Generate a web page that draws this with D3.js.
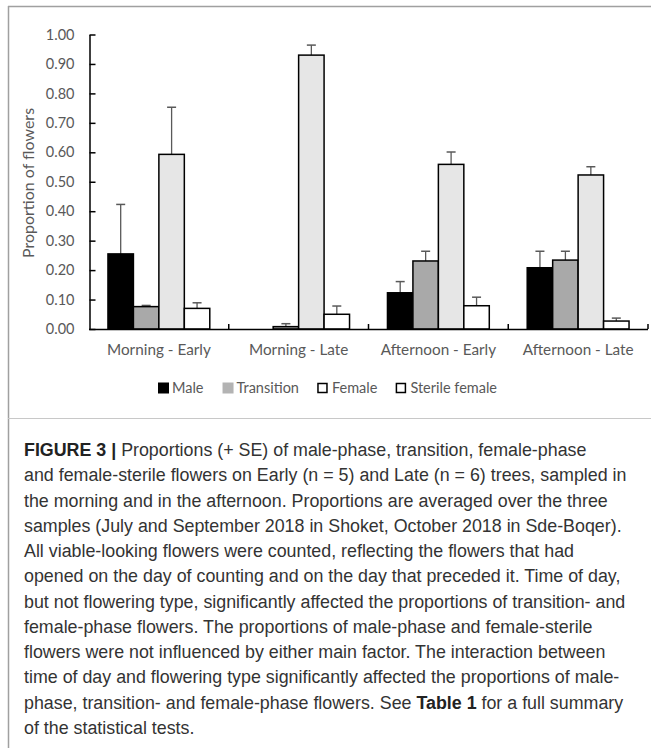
<!DOCTYPE html>
<html>
<head>
<meta charset="utf-8">
<script src="https://cdn.jsdelivr.net/npm/d3@7"></script>
<style>
  html, body { margin: 0; padding: 0; background: #fff; }
  svg { display: block; }
</style>
</head>
<body>
<svg id="chart" width="651" height="748"></svg>
<script>
// ---- data ----
const categories = ["Morning - Early", "Morning - Late", "Afternoon - Early", "Afternoon - Late"];
const seriesNames = ["Male", "Transition", "Female", "Sterile female"];
const male = [0.255, 0.000, 0.123, 0.208];
const maleSE = [0.168, 0.000, 0.038, 0.056];
const transition = [0.076, 0.008, 0.231, 0.234];
const transitionSE = [0.004, 0.010, 0.033, 0.030];
const female = [0.593, 0.930, 0.559, 0.523];
const femaleSE = [0.160, 0.034, 0.042, 0.028];
const sterile = [0.070, 0.050, 0.079, 0.027];
const sterileSE = [0.019, 0.028, 0.029, 0.010];
const yTicks = [0, 0.1, 0.2, 0.3, 0.4, 0.5, 0.6, 0.7, 0.8, 0.9, 1.0];
const yLabel = "Proportion of flowers";
const captionLines = [
  [["FIGURE 3 |", true], [" Proportions (+ SE) of male-phase, transition, female-phase", false]],
  [["and female-sterile flowers on Early (n = 5) and Late (n = 6) trees, sampled in", false]],
  [["the morning and in the afternoon. Proportions are averaged over the three", false]],
  [["samples (July and September 2018 in Shoket, October 2018 in Sde-Boqer).", false]],
  [["All viable-looking flowers were counted, reflecting the flowers that had", false]],
  [["opened on the day of counting and on the day that preceded it. Time of day,", false]],
  [["but not flowering type, significantly affected the proportions of transition- and", false]],
  [["female-phase flowers. The proportions of male-phase and female-sterile", false]],
  [["flowers were not influenced by either main factor. The interaction between", false]],
  [["time of day and flowering type significantly affected the proportions of male-", false]],
  [["phase, transition- and female-phase flowers. See ", false], ["Table 1", true], [" for a full summary", false]],
  [["of the statistical tests.", false]]
];

const valueSets = [male, transition, female, sterile];
const seSets = [maleSE, transitionSE, femaleSE, sterileSE];
const fills = ["#000000", "#a9a9a9", "#e6e6e6", "#ffffff"];
const legendFills = ["#000000", "#b3b3b3", "#ffffff", "#ffffff"];
const legendStrokes = ["none", "none", "#000", "#000"];

const svg = d3.select("#chart");
const axisColor = "#595959";
const chartFont = "Lato, 'Open Sans', sans-serif";

// frame
svg.append("line").attr("x1", 8).attr("x2", 651).attr("y1", 6.5).attr("y2", 6.5)
  .attr("stroke", "#a0a0a0").attr("stroke-width", 1.5);
svg.append("line").attr("x1", 8.5).attr("x2", 8.5).attr("y1", 6).attr("y2", 748)
  .attr("stroke", "#a0a0a0").attr("stroke-width", 1.5);
svg.append("line").attr("x1", 8).attr("x2", 651).attr("y1", 418.5).attr("y2", 418.5)
  .attr("stroke", "#c8c8c8").attr("stroke-width", 1);

// scales
const x0 = d3.scaleBand().domain(categories).range([89, 648]).paddingInner(0).paddingOuter(0);
const x1 = d3.scaleBand().domain(seriesNames).range([0, x0.bandwidth()]).paddingInner(0).paddingOuter(0.745);
const y = d3.scaleLinear().domain([0, 1]).range([329, 34.5]);

// y axis
const yAxis = d3.axisLeft(y).tickValues(yTicks).tickFormat(d3.format(".2f")).tickSizeInner(-6).tickSizeOuter(0).tickPadding(15);
const gy = svg.append("g").attr("transform", "translate(89.5,0)").call(yAxis);
gy.select(".domain").attr("stroke", "#000").attr("stroke-width", 1.5);
gy.selectAll(".tick line").attr("stroke", "#000").attr("stroke-width", 1.5);
gy.selectAll(".tick text").attr("fill", axisColor).style("font-family", chartFont).style("font-size", "14.5px");

// y label
svg.append("text").attr("transform", "translate(34,183) rotate(-90)")
  .attr("text-anchor", "middle").attr("fill", axisColor)
  .style("font-family", chartFont).style("font-size", "16px").text(yLabel);

// bars
const groups = svg.append("g").selectAll("g").data(categories).join("g")
  .attr("transform", d => `translate(${x0(d)},0)`);

groups.each(function(cat, ci) {
  const g = d3.select(this);
  seriesNames.forEach((s, si) => {
    const v = valueSets[si][ci];
    const se = seSets[si][ci];
    if (v <= 0) return;
    const bx = x1(s);
    const bw = x1.bandwidth();
    const cx = bx + bw / 2;
    g.append("line").attr("x1", cx).attr("x2", cx).attr("y1", y(v)).attr("y2", y(v + se))
      .attr("stroke", axisColor).attr("stroke-width", 1.3);
    g.append("line").attr("x1", cx - 4.5).attr("x2", cx + 4.5).attr("y1", y(v + se)).attr("y2", y(v + se))
      .attr("stroke", axisColor).attr("stroke-width", 1.5);
    g.append("rect").attr("x", bx).attr("y", y(v)).attr("width", bw).attr("height", y(0) - y(v))
      .attr("fill", fills[si]).attr("stroke", "#000").attr("stroke-width", 1.5);
  });
});

// x axis
const xAxisLine = svg.append("g");
xAxisLine.append("line").attr("x1", 89).attr("x2", x0.range()[1]).attr("y1", 329.5).attr("y2", 329.5)
  .attr("stroke", "#000").attr("stroke-width", 1.5);
const bounds = categories.map(c => x0(c)).concat([x0(categories[categories.length - 1]) + x0.bandwidth()]).slice(1);
xAxisLine.selectAll("line.b").data(bounds).join("line").attr("class", "b")
  .attr("x1", d => d).attr("x2", d => d).attr("y1", 329).attr("y2", 324)
  .attr("stroke", "#000").attr("stroke-width", 1.5);
const xAxis = d3.axisBottom(x0).tickSize(0).tickPadding(15);
const gx = svg.append("g").attr("transform", "translate(0,329)").call(xAxis);
gx.select(".domain").remove();
gx.selectAll(".tick text").attr("fill", axisColor).style("font-family", chartFont).style("font-size", "15.3px");

// legend
const legend = svg.append("g");
let lx = 158;
seriesNames.forEach((s, i) => {
  legend.append("rect").attr("x", lx).attr("y", i < 2 ? 382.5 : 383.5).attr("width", i < 2 ? 11 : 9).attr("height", i < 2 ? 11 : 9)
    .attr("fill", legendFills[i]).attr("stroke", legendStrokes[i]).attr("stroke-width", 1.5);
  const t = legend.append("text").attr("x", lx + 14).attr("y", 392.5).attr("fill", axisColor)
    .style("font-family", chartFont).style("font-size", "14.5px").text(s);
  lx = lx + 14 + t.node().getComputedTextLength() + 19;
});

// caption
const capFont = "'Liberation Sans', Arial, sans-serif";
const cap = svg.append("g");
let capSize = 16;
const probe = cap.append("text").style("font-family", capFont).style("font-size", capSize + "px")
  .text(captionLines[1][0][0]);
const w = probe.node().getComputedTextLength();
capSize = capSize * 603 / w;
probe.remove();
captionLines.forEach((line, i) => {
  const t = cap.append("text").attr("x", 24).attr("y", 456 + i * 25.27)
    .style("font-family", capFont).style("font-size", capSize.toFixed(2) + "px").attr("fill", "#333");
  line.forEach(([txt, bold]) => {
    t.append("tspan").text(txt).style("font-weight", bold ? "bold" : "normal").attr("fill", bold ? "#222" : "#333");
  });
});
</script>
</body>
</html>
